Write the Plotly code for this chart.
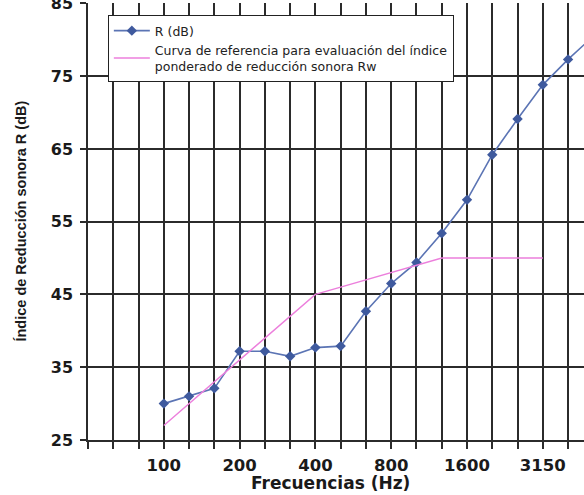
import plotly.graph_objects as go

# Third-octave band frequencies shown on the axis (first three unlabeled)
freq_all = ["50", "63", "80", "100", "125", "160", "200", "250", "315", "400", "500",
            "630", "800", "1000", "1250", "1600", "2000", "2500", "3150", "4000", "5000"]
tick_labels = ["", "", "", "100", "", "", "200", "", "", "400", "", "",
               "800", "", "", "1600", "", "", "3150", "", ""]

# Measured sound reduction index R (dB)
freq_r = ["100", "125", "160", "200", "250", "315", "400", "500", "630", "800",
          "1000", "1250", "1600", "2000", "2500", "3150", "4000", "5000"]
r_db = [30.0, 31.0, 32.1, 37.2, 37.2, 36.5, 37.7, 37.9, 42.7, 46.5,
        49.4, 53.4, 58.0, 64.2, 69.1, 73.8, 77.3, 80.5]

# Shifted reference curve (ISO 717-1) for Rw
freq_ref = ["100", "125", "160", "200", "250", "315", "400", "500", "630", "800",
            "1000", "1250", "1600", "2000", "2500", "3150"]
ref_db = [27, 30, 33, 36, 39, 42, 45, 46, 47, 48, 49, 50, 50, 50, 50, 50]

rw_value = "46"
rw_pos = ("400", 48.1)

FONT = "Arial, Liberation Sans, sans-serif"
WFONT = "DejaVu Sans, Verdana, sans-serif"
GRID = "#2b2b2b"

fig = go.Figure()
fig.add_trace(go.Scatter(
    x=freq_r, y=r_db, mode="lines+markers", name="R (dB)",
    line=dict(color="#5b74b4", width=1.6),
    marker=dict(symbol="diamond", size=8, color="#3f5a9e"),
    legendgroup="a",
))
fig.add_trace(go.Scatter(
    x=freq_ref, y=ref_db, mode="lines",
    name="Curva de referencia para evaluación del índice<br>ponderado de reducción sonora Rw",
    line=dict(color="#ec7fdc", width=1.4),
    legendgroup="b",
))

fig.add_annotation(
    x=rw_pos[0], y=rw_pos[1], text=rw_value, showarrow=False,
    xanchor="left", xshift=1,
    font=dict(family=WFONT, size=15, color="#e050c8"),
)

fig.add_annotation(
    xref="paper", yref="paper", x=0.488, y=-0.098, text="<b>Frecuencias (Hz)</b>",
    showarrow=False, xanchor="center", yanchor="middle",
    font=dict(family=WFONT, size=17, color="#1a1a1a"),
)
fig.add_annotation(
    xref="paper", yref="paper", x=-0.137, y=0.5,
    text="<b>Índice de Reducción sonora R (dB)</b>", textangle=-90,
    showarrow=False, xanchor="center", yanchor="middle",
    font=dict(family=FONT, size=14.5, color="#1a1a1a"),
)

fig.update_layout(
    width=584, height=495,
    margin=dict(l=88, r=0, t=3, b=55),
    paper_bgcolor="white", plot_bgcolor="white",
    font=dict(family=FONT, color="#1a1a1a"),
    showlegend=True,
    legend=dict(
        x=0.04, y=0.9725, xanchor="left", yanchor="top",
        bgcolor="white", bordercolor="#222", borderwidth=1,
        font=dict(family=WFONT, size=12.5, color="#222"),
        traceorder="grouped", tracegroupgap=0,
        itemwidth=36,
    ),
    xaxis=dict(
        type="category", categoryorder="array", categoryarray=freq_all,
        range=[0, 19.63], tickvals=freq_all, ticktext=tick_labels,
        showgrid=True, gridcolor=GRID, gridwidth=1.5,
        ticks="outside", ticklen=7, tickcolor=GRID, tickwidth=1.5,
        showline=True, linecolor=GRID, linewidth=1.5,
        tickfont=dict(family=WFONT, size=16.5, color="#1a1a1a", weight="bold"),
        ticklabelstandoff=2, automargin=False, fixedrange=True,
    ),
    yaxis=dict(
        range=[25, 85.05], tick0=25, dtick=10,
        showgrid=True, gridcolor=GRID, gridwidth=1.5,
        ticks="outside", ticklen=6, tickcolor=GRID, tickwidth=1.5,
        showline=True, linecolor=GRID, linewidth=1.5, zeroline=False,
        tickfont=dict(family=WFONT, size=16, color="#1a1a1a", weight="bold"),
        ticklabelstandoff=4, ticklabeloverflow="allow",
        automargin=False, fixedrange=True,
    ),
)

fig.write_html(
    "out.html",
    config={"displayModeBar": False},
    post_script="document.body.style.margin='0px';document.body.style.overflow='hidden';",
)
